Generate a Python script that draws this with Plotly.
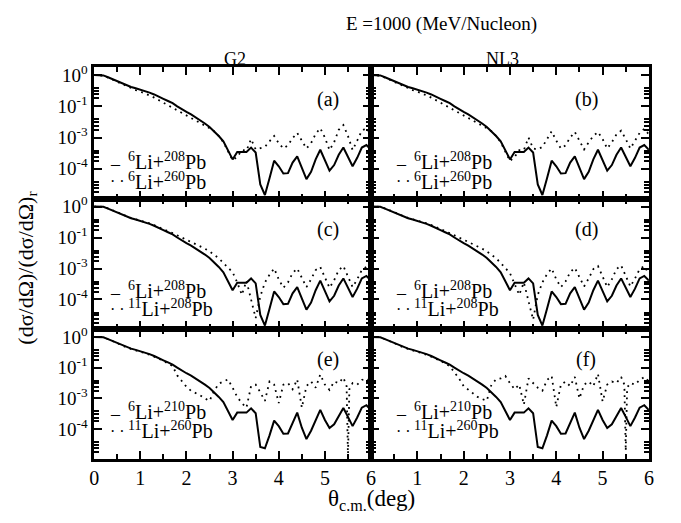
import plotly.graph_objects as go

# ---------------- data (log10 of the plotted ratio) ----------------
theta = [round(0.1 * i, 1) for i in range(61)]

# 6Li+208Pb (solid, panels a-d)
solid_6li208 = [0.00, 0.00, -0.01, -0.07, -0.13, -0.19, -0.26, -0.33, -0.38, -0.42,
                -0.46, -0.50, -0.56, -0.62, -0.68, -0.76, -0.83, -0.90, -1.00, -1.10,
                -1.18, -1.26, -1.35, -1.44, -1.55, -1.66, -1.80, -1.95, -2.12, -2.40,
                -2.70, -2.46, -2.45, -2.46, -2.32, -2.48, -3.50, -3.84, -3.30, -2.74,
                -2.92, -3.15, -3.14, -2.80, -2.60, -2.98, -3.33, -3.10, -2.70, -2.39,
                -2.72, -3.06, -2.88, -2.55, -2.32, -2.62, -2.92, -2.65, -2.32, -2.24,
                -2.39]

# 6Li+210Pb (solid, panels e-f)
solid_6li210 = [0.00, 0.00, -0.01, -0.07, -0.13, -0.19, -0.26, -0.33, -0.38, -0.42,
                -0.46, -0.50, -0.56, -0.62, -0.68, -0.76, -0.83, -0.90, -1.00, -1.10,
                -1.18, -1.26, -1.35, -1.44, -1.55, -1.66, -1.80, -1.95, -2.12, -2.40,
                -2.70, -2.46, -2.45, -2.46, -2.32, -2.48, -3.58, -3.62, -3.20, -2.72,
                -2.90, -3.15, -3.14, -2.78, -2.46, -2.95, -3.32, -3.05, -2.68, -2.37,
                -2.70, -2.96, -2.84, -2.55, -2.31, -2.60, -2.90, -2.62, -2.30, -2.22,
                -2.38]

# G2 6Li+260Pb (dotted, panel a)
dot_a = [0.00, 0.00, -0.02, -0.08, -0.15, -0.21, -0.28, -0.35, -0.42, -0.48,
         -0.53, -0.58, -0.65, -0.72, -0.80, -0.88, -0.96, -1.04, -1.12, -1.22,
         -1.30, -1.38, -1.46, -1.54, -1.62, -1.70, -1.80, -1.95, -2.15, -2.45,
         -2.72, -2.62, -2.40, -2.42, -2.05, -2.38, -2.35, -2.30, -2.12, -1.95,
         -2.18, -2.35, -2.25, -2.02, -1.85, -2.10, -2.35, -2.18, -1.88, -1.70,
         -2.00, -2.40, -2.15, -1.75, -1.60, -1.95, -2.40, -2.10, -1.78, -1.70,
         -1.90]

# NL3 6Li+260Pb (dotted, panel b)
dot_b = [0.00, 0.00, -0.02, -0.08, -0.15, -0.21, -0.28, -0.35, -0.42, -0.48,
         -0.53, -0.58, -0.65, -0.72, -0.80, -0.88, -0.96, -1.04, -1.12, -1.22,
         -1.30, -1.38, -1.46, -1.54, -1.62, -1.70, -1.80, -1.95, -2.15, -2.45,
         -2.75, -2.62, -2.40, -2.40, -2.00, -2.35, -2.38, -2.30, -2.05, -1.80,
         -2.10, -2.35, -2.25, -2.00, -1.82, -2.10, -2.38, -2.15, -1.95, -1.82,
         -2.05, -2.35, -2.15, -1.90, -1.78, -2.05, -2.35, -2.10, -1.85, -1.72,
         -1.90]

# G2 11Li+208Pb (dotted, panel c)
dot_c = [0.00, 0.00, -0.01, -0.06, -0.12, -0.18, -0.25, -0.32, -0.37, -0.41,
         -0.45, -0.49, -0.54, -0.60, -0.66, -0.73, -0.80, -0.86, -0.93, -1.00,
         -1.06, -1.13, -1.20, -1.28, -1.36, -1.45, -1.55, -1.67, -1.82, -1.98,
         -2.12, -2.45, -2.85, -2.40, -3.00, -3.60, -2.90, -2.45, -2.20, -2.00,
         -2.35, -2.62, -2.45, -2.15, -2.00, -2.30, -2.60, -2.35, -2.05, -1.95,
         -2.30, -2.62, -2.38, -2.05, -1.92, -2.25, -2.60, -2.35, -2.05, -1.95,
         -2.20]

# NL3 11Li+208Pb (dotted, panel d)
dot_d = [0.00, 0.00, -0.01, -0.06, -0.12, -0.18, -0.25, -0.32, -0.37, -0.41,
         -0.45, -0.49, -0.54, -0.60, -0.66, -0.73, -0.80, -0.86, -0.93, -1.00,
         -1.06, -1.13, -1.20, -1.28, -1.36, -1.45, -1.55, -1.67, -1.82, -1.98,
         -2.15, -2.50, -2.85, -2.45, -3.05, -3.65, -2.85, -2.45, -2.18, -2.00,
         -2.35, -2.60, -2.42, -2.12, -1.98, -2.28, -2.58, -2.32, -2.02, -1.92,
         -2.28, -2.60, -2.35, -2.02, -1.90, -2.22, -2.58, -2.32, -2.02, -1.92,
         -2.18]

# 11Li+260Pb (dotted, panels e-f) on their own angle grid
theta_ef = [round(0.1 * i, 1) for i in range(55)] + [5.47, 5.5, 5.53] + [round(0.1 * i, 1) for i in range(56, 61)]
dot_e = [0.00, 0.00, -0.01, -0.07, -0.13, -0.20, -0.27, -0.34, -0.40, -0.44,
         -0.48, -0.52, -0.58, -0.64, -0.70, -0.78, -0.86, -0.95, -1.25, -1.45,
         -1.62, -1.75, -1.82, -1.90, -2.00, -2.08, -1.75, -1.52, -1.45, -1.38,
         -1.65, -1.95, -2.15, -2.30, -1.60, -1.55, -1.80, -2.08, -1.45, -1.55,
         -2.15, -1.55, -1.50, -1.70, -1.38, -2.30, -1.60, -1.45, -1.65, -1.22,
         -1.55, -1.72, -1.45, -1.50, -1.32, -1.60, -3.90, -1.70,
         -1.50, -1.55, -1.40, -1.35, -1.45]
dot_f = [0.00, 0.00, -0.01, -0.07, -0.13, -0.20, -0.27, -0.34, -0.40, -0.44,
         -0.48, -0.52, -0.58, -0.64, -0.70, -0.78, -0.86, -0.95, -1.15, -1.35,
         -1.60, -1.72, -1.86, -1.95, -2.02, -2.07, -1.55, -1.38, -1.35, -1.27,
         -1.50, -1.70, -1.55, -2.20, -1.35, -1.50, -1.65, -1.75, -1.40, -1.27,
         -2.28, -1.55, -1.45, -1.60, -1.30, -2.00, -1.55, -1.45, -1.60, -1.20,
         -2.10, -1.55, -1.45, -1.50, -1.30, -1.55, -3.70, -1.65,
         -1.50, -1.55, -1.40, -1.30, -1.45]

panel_labels = ["(a)", "(b)", "(c)", "(d)", "(e)", "(f)"]
legend_solid = ["<sup>6</sup>Li+<sup>208</sup>Pb", "<sup>6</sup>Li+<sup>208</sup>Pb",
                "<sup>6</sup>Li+<sup>208</sup>Pb", "<sup>6</sup>Li+<sup>208</sup>Pb",
                "<sup>6</sup>Li+<sup>210</sup>Pb", "<sup>6</sup>Li+<sup>210</sup>Pb"]
legend_dot = ["<sup>6</sup>Li+<sup>260</sup>Pb", "<sup>6</sup>Li+<sup>260</sup>Pb",
              "<sup>11</sup>Li+<sup>208</sup>Pb", "<sup>11</sup>Li+<sup>208</sup>Pb",
              "<sup>11</sup>Li+<sup>260</sup>Pb", "<sup>11</sup>Li+<sup>260</sup>Pb"]
ytick_vals = [1, 0.1, 0.01, 0.001]
ytick_text = ["10<sup>0</sup>", "10<sup>-1</sup>", "10<sup>-3</sup>", "10<sup>-4</sup>"]
xtick_vals = [0, 1, 2, 3, 4, 5, 6]

# ---------------- figure ----------------
W, H = 681, 523
FONT = "Times New Roman, Liberation Serif, Nimbus Roman, DejaVu Serif, serif"


def px(x):
    return x / W


def py(y):
    return 1 - y / H


col_dom = [[px(90.5), px(371.5)], [px(371.5), px(653.5)]]
row_px = [(62, 195), (195, 327), (327, 458)]
row_dom = [[py(b), py(t)] for t, b in row_px]

solid_sets = [solid_6li208, solid_6li208, solid_6li208, solid_6li208, solid_6li210, solid_6li210]
dot_sets = [dot_a, dot_b, dot_c, dot_d, dot_e, dot_f]
dot_thetas = [theta, theta, theta, theta, theta_ef, theta_ef]

fig = go.Figure()
minor_y = [k * b for b in (0.1, 0.01, 0.001, 0.0001) for k in (1.8, 2.4, 3.1, 3.8)]

for i in range(6):
    r, c = divmod(i, 2)
    n = "" if i == 0 else str(i + 1)
    xa, ya = "x" + n, "y" + n
    fig.add_trace(go.Scatter(x=theta, y=[10 ** v for v in solid_sets[i]], mode="lines",
                             line=dict(color="black", width=2), xaxis=xa, yaxis=ya,
                             showlegend=False, hoverinfo="skip"))
    fig.add_trace(go.Scatter(x=dot_thetas[i], y=[10 ** v for v in dot_sets[i]], mode="lines",
                             line=dict(color="black", width=1.8, dash="1.8px,4.5px"), xaxis=xa, yaxis=ya,
                             showlegend=False, hoverinfo="skip"))
    bottom = (r == 2)
    left = (c == 0)
    fig.layout["xaxis" + n] = dict(
        domain=col_dom[c], anchor=ya, range=[0, 6], showline=True, linecolor="black", linewidth=2.5,
        mirror="ticks", ticks="inside", ticklen=8, tickwidth=2, tickcolor="black",
        tickmode="array", tickvals=xtick_vals,
        ticktext=[str(v) if (left or v != 0) else "" for v in xtick_vals],
        showticklabels=bottom, showgrid=False, zeroline=False,
        tickfont=dict(family=FONT, size=20, color="black"),
        minor=dict(ticks="inside", ticklen=5, tickwidth=1.5, tickcolor="black", dtick=0.5, tick0=0, showgrid=False))
    fig.layout["yaxis" + n] = dict(
        domain=row_dom[r], anchor=xa, type="log", range=[-3.96, 0.25], showline=True, linecolor="black",
        linewidth=2.5, mirror="ticks", ticks="inside", ticklen=8, tickwidth=2, tickcolor="black",
        tickmode="array", tickvals=ytick_vals, ticktext=ytick_text, showticklabels=left,
        showgrid=False, zeroline=False, tickfont=dict(family=FONT, size=19, color="black"),
        minor=dict(ticks="inside", ticklen=5, tickwidth=1.5, tickcolor="black", tickmode="array",
                   tickvals=minor_y, showgrid=False))

ann = []


def add_text(x, y, text, size, xanchor="center", yanchor="middle", angle=0):
    ann.append(dict(x=px(x), y=py(y), xref="paper", yref="paper", text=text, showarrow=False,
                    xanchor=xanchor, yanchor=yanchor, textangle=angle, borderpad=0,
                    font=dict(family=FONT, size=size, color="black")))


add_text(443, 18, "E =1000 (MeV/Nucleon)", 19)
add_text(233, 54, "G2", 18)
add_text(505, 54, "NL3", 18)
add_text(22, 265, "(dσ/dΩ)/(dσ/dΩ)<sub>r</sub>", 22, angle=-90)
add_text(372, 500, "θ<sub>c.m.</sub>(deg)", 23)

label_pos = [(328, 95), (590, 95), (328, 226), (590, 226), (328, 358), (590, 358)]
legend_pos = [(106, 157, 177), (396, 157, 177), (106, 287, 306), (396, 287, 306),
              (106, 410, 429), (396, 410, 429)]
for i in range(6):
    add_text(label_pos[i][0], label_pos[i][1], panel_labels[i], 20)
    lx, y1, y2 = legend_pos[i]
    add_text(lx, y1 + 3, "–", 18, xanchor="left")
    add_text(lx + 18, y1, legend_solid[i], 20, xanchor="left")
    add_text(lx, y2 + 1, "· ·", 16, xanchor="left")
    add_text(lx + 18, y2, legend_dot[i], 20, xanchor="left")

fig.update_layout(width=W, height=H, margin=dict(l=0, r=0, t=0, b=0), paper_bgcolor="white",
                  plot_bgcolor="white", annotations=ann, showlegend=False,
                  font=dict(family=FONT, color="black"))
fig.write_html("out.html")
